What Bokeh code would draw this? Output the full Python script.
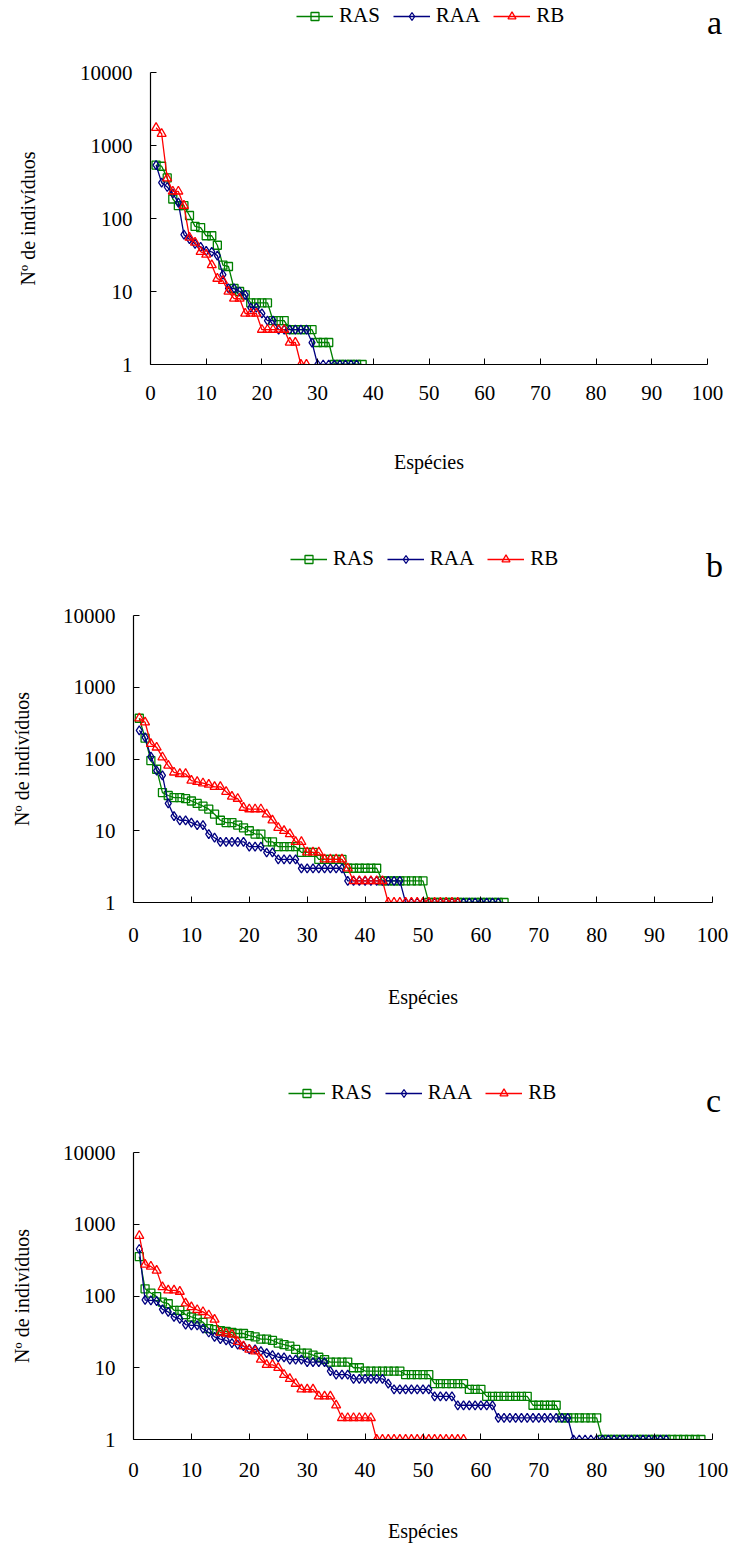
from bokeh.plotting import figure
from bokeh.models import (Range1d, FixedTicker, NumeralTickFormatter, Legend, LegendItem, Label)
from bokeh.embed import file_html
from bokeh.resources import INLINE

# ---------------- data ----------------
series_names = ["RAS", "RAA", "RB"]
x_ticks = [0, 10, 20, 30, 40, 50, 60, 70, 80, 90, 100]
y_ticks = [1, 10, 100, 1000, 10000]

# panel a
a_ras = [540, 520, 360, 185, 150, 150, 110, 78, 75, 58,
         58, 43, 23, 22, 11, 10, 9, 7, 7, 7,
         7, 4, 4, 4, 3, 3, 3, 3, 3, 2,
         2, 2, 1, 1, 1, 1, 1, 1]
a_raa = [540, 310, 270, 220, 165, 60, 52, 45, 41, 36,
         35, 31, 17, 11, 11, 10, 9, 6, 6, 5,
         4, 4, 3, 3, 3, 3, 3, 3, 2, 1,
         1, 1, 1, 1, 1, 1, 1]
a_rb = [1750, 1450, 355, 235, 235, 150, 55, 47, 35, 32,
        23, 15, 14, 10, 8, 8, 5, 5, 5, 3,
        3, 3, 3, 3, 2, 2, 1, 1]

# panel b
b_ras = [370, 195, 95, 72, 34, 31, 29, 29, 28, 26,
         24, 22, 20, 17, 14, 13, 13, 12, 11, 10,
         9, 9, 7, 7, 6, 6, 6, 6, 5, 5,
         5, 4, 4, 4, 4, 4, 3, 3, 3, 3,
         3, 3, 2, 2, 2, 2, 2, 2, 2, 2,
         1, 1, 1, 1, 1, 1, 1, 1, 1, 1,
         1, 1, 1, 1]
b_raa = [250, 200, 108, 69, 59, 24, 16, 14, 14, 13,
         12, 12, 9, 8, 7, 7, 7, 7, 7, 6,
         6, 6, 5, 5, 4, 4, 4, 4, 3, 3,
         3, 3, 3, 3, 3, 3, 2, 2, 2, 2,
         2, 2, 2, 2, 2, 2, 1, 1, 1, 1,
         1, 1, 1, 1, 1, 1, 1, 1, 1, 1,
         1, 1, 1]
b_rb = [370, 325, 163, 145, 106, 81, 65, 62, 62, 50,
        48, 46, 44, 41, 41, 35, 30, 28, 21, 20,
        20, 20, 17, 14, 11, 10, 9, 7, 7, 5,
        5, 5, 4, 4, 4, 4, 3, 2, 2, 2,
        2, 2, 2, 1, 1, 1, 1, 1, 1, 1,
        1, 1, 1, 1, 1, 1]

# panel c
c_ras = [354, 126, 110, 98, 82, 78, 63, 63, 55, 51,
         48, 43, 35, 34, 33, 32, 31, 30, 30, 28,
         27, 25, 25, 24, 22, 21, 20, 18, 16, 16,
         15, 14, 13, 12, 12, 12, 12, 10, 10, 9,
         9, 9, 9, 9, 9, 9, 8, 8, 8, 8,
         8, 6, 6, 6, 6, 6, 6, 5, 5, 5,
         4, 4, 4, 4, 4, 4, 4, 4, 3, 3,
         3, 3, 3, 2, 2, 2, 2, 2, 2, 2,
         1, 1, 1, 1, 1, 1, 1, 1, 1, 1,
         1, 1, 1, 1, 1, 1, 1, 1]
c_raa = [452, 88, 87, 85, 65, 60, 51, 48, 40, 39,
         39, 35, 31, 27, 25, 24, 22, 21, 20, 18,
         18, 17, 16, 15, 14, 14, 13, 13, 13, 12,
         12, 12, 12, 9, 8, 8, 8, 7, 7, 7,
         7, 7, 7, 6, 5, 5, 5, 5, 5, 5,
         5, 4, 4, 4, 4, 3, 3, 3, 3, 3,
         3, 3, 2, 2, 2, 2, 2, 2, 2, 2,
         2, 2, 2, 2, 2, 1, 1, 1, 1, 1,
         1, 1, 1, 1, 1, 1, 1, 1, 1, 1,
         1, 1]
c_rb = [692, 274, 258, 226, 133, 120, 120, 115, 79, 70,
        64, 60, 54, 47, 31, 30, 29, 23, 20, 18,
        17, 13, 11, 11, 10, 8, 7, 6, 5, 5,
        5, 4, 4, 4, 3, 2, 2, 2, 2, 2,
        2, 1, 1, 1, 1, 1, 1, 1, 1, 1,
        1, 1, 1, 1, 1, 1, 1]

panel_letters = ["a", "b", "c"]
x_title = "Espécies"
y_title = "Nº de indivíduos"

# ---------------- style ----------------
FONT = "Liberation Serif"
COLORS = ["#008000", "#000080", "#ff0000"]
MARKERS = ["square", "diamond", "triangle"]
MSIZES = [8, 9, 9]
W = 730
NAN = float("nan")


def add_series(p, xs_list, ys_list):
    rends = []
    for xs, vals, col, mk, ms in zip(xs_list, ys_list, COLORS, MARKERS, MSIZES):
        ln = p.line(xs, vals, line_color=col, line_width=1.3)
        sc = p.scatter(xs, vals, marker=mk, size=ms, line_color=col,
                       fill_alpha=0, line_width=1.3)
        rends.append((ln, sc))
    return rends


def make_header(letter, height, legend_loc, letter_loc):
    h = figure(width=W, height=height, x_range=Range1d(0, W), y_range=Range1d(0, height),
               output_backend="svg", toolbar_location=None,
               x_axis_location=None, y_axis_location=None,
               min_border=0, min_border_left=0, min_border_right=0,
               min_border_top=0, min_border_bottom=0)
    h.outline_line_color = None
    h.xgrid.visible = False
    h.ygrid.visible = False
    # legend keys only (no visible data): same styles as the series
    rends = add_series(h, [[NAN], [NAN], [NAN]], [[NAN], [NAN], [NAN]])
    items = [LegendItem(label=n, renderers=[ln, sc]) for n, (ln, sc) in zip(series_names, rends)]
    leg = Legend(items=items, location=legend_loc, orientation="horizontal",
                 label_text_font=FONT, label_text_font_size="21px",
                 label_text_color="black", glyph_width=37, glyph_height=20,
                 label_height=20, label_standoff=6, spacing=13, padding=0,
                 margin=0, background_fill_alpha=0, border_line_color=None)
    h.add_layout(leg)
    h.add_layout(Label(x=letter_loc[0], y=letter_loc[1], x_units="screen", y_units="screen",
                       text=letter, text_font=FONT, text_font_size="34px",
                       text_align="center", text_baseline="middle", text_color="black"))
    return h


def make_panel(ras, raa, rb, height, b_left, b_top, b_right, b_bottom,
               ylab_standoff, xlab_standoff, xlbl_standoff):
    p = figure(width=W, height=height, x_range=Range1d(0, 100),
               y_range=Range1d(1, 10000), y_axis_type="log",
               output_backend="svg", toolbar_location=None,
               min_border_left=b_left, min_border_top=b_top,
               min_border_right=b_right, min_border_bottom=b_bottom)
    p.outline_line_color = None
    p.xgrid.visible = False
    p.ygrid.visible = False

    series = [ras, raa, rb]
    add_series(p, [list(range(1, len(v) + 1)) for v in series], series)

    for ax in (p.xaxis[0], p.yaxis[0]):
        ax.axis_line_color = "black"
        ax.axis_line_width = 1.2
        ax.major_tick_line_color = "black"
        ax.major_tick_in = 6
        ax.major_tick_out = 0
        ax.minor_tick_line_color = None
        ax.major_label_text_font = FONT
        ax.major_label_text_font_size = "21px"
        ax.major_label_text_color = "black"
        ax.axis_label_text_font = FONT
        ax.axis_label_text_font_size = "20px"
        ax.axis_label_text_font_style = "normal"
        ax.axis_label_text_color = "black"

    p.xaxis[0].ticker = FixedTicker(ticks=x_ticks, minor_ticks=[])
    p.yaxis[0].ticker = FixedTicker(ticks=y_ticks, minor_ticks=[])
    p.yaxis[0].formatter = NumeralTickFormatter(format="0")
    p.xaxis[0].axis_label = x_title
    p.yaxis[0].axis_label = y_title
    p.xaxis[0].major_label_standoff = xlbl_standoff
    p.yaxis[0].major_label_standoff = 18
    p.xaxis[0].axis_label_standoff = xlab_standoff
    p.yaxis[0].axis_label_standoff = ylab_standoff
    return p


ha = make_header(panel_letters[0], 50, (296, 22), (714, 28))
pa = make_panel(a_ras, a_raa, a_rb, 480, 150, 22, 23, 166, 38, 48, 21)
hb = make_header(panel_letters[1], 55, (290, 14), (714, 20))
pb = make_panel(b_ras, b_raa, b_rb, 482, 133, 30, 18, 165, 27, 41, 25)
hc = make_header(panel_letters[2], 55, (288, 17), (713, 22))
pc = make_panel(c_ras, c_raa, c_rb, 422, 133, 30, 18, 104, 27, 40, 23)

open("out.html", "w").write(file_html([ha, pa, hb, pb, hc, pc], INLINE))
